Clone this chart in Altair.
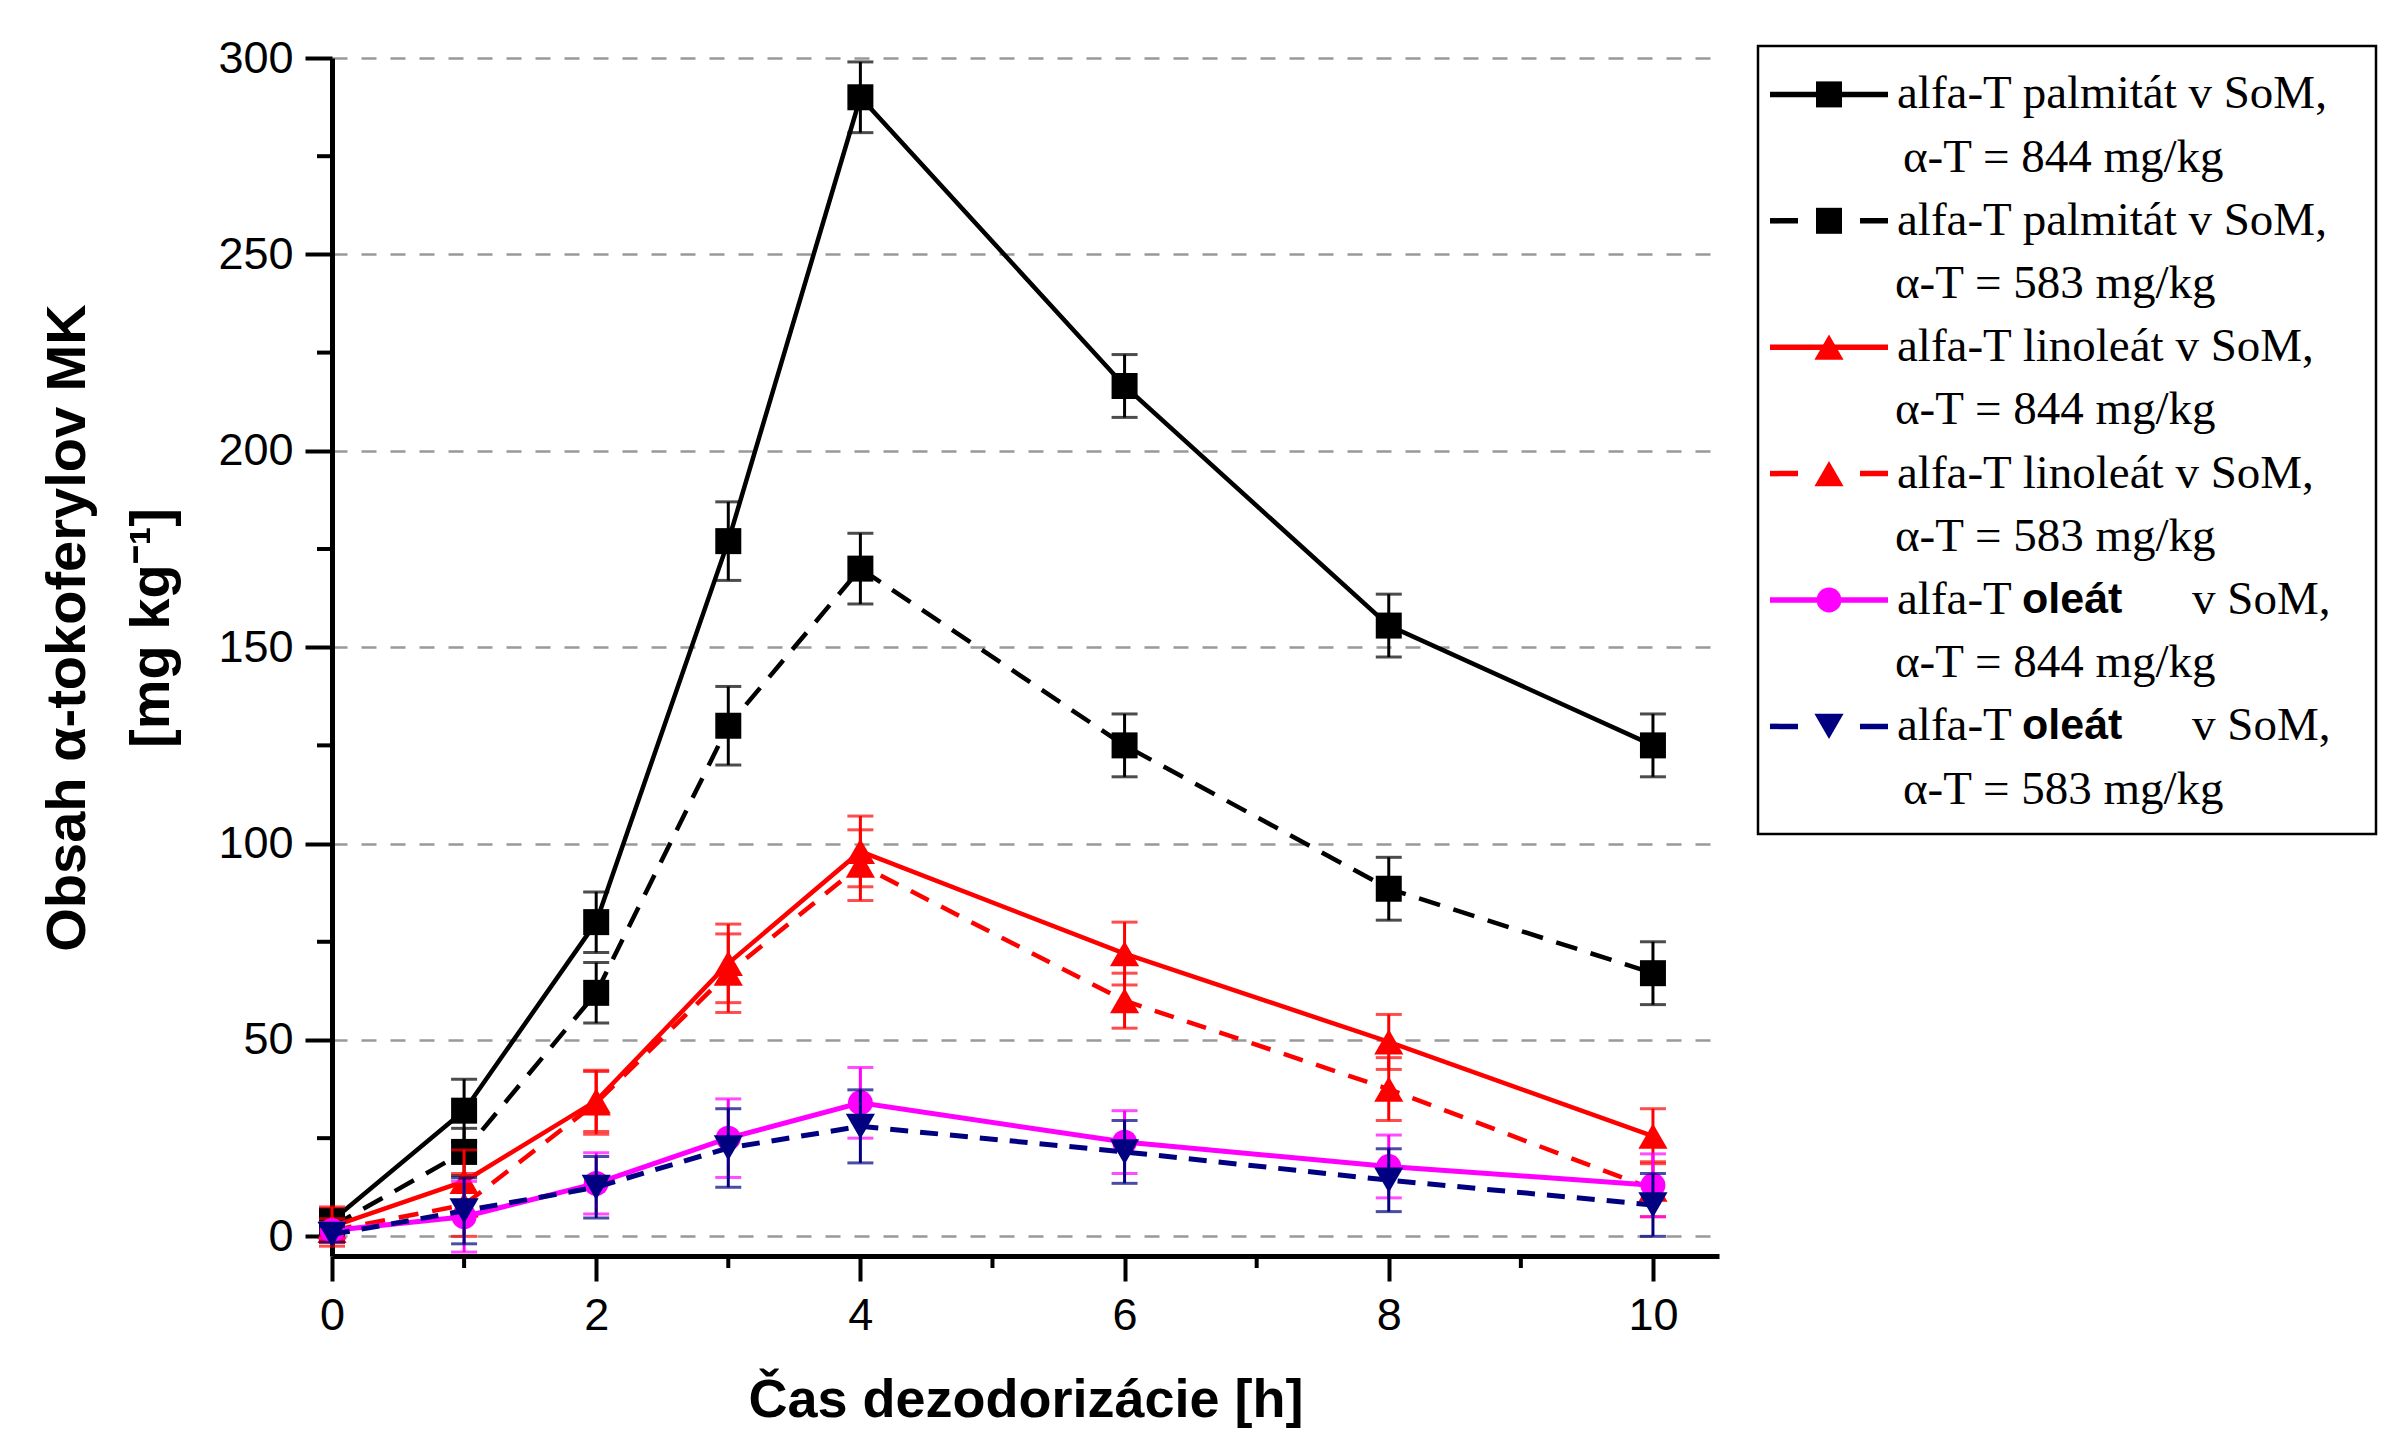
import altair as alt
import pandas as pd

# ---------------- data ----------------
hours = [0, 1, 2, 3, 4, 6, 8, 10]

palm844 = [4, 32, 80, 177, 290, 216.5, 155.5, 125]
palm844_err = [3, 8, 7.7, 10, 9, 8, 8, 8]
palm583 = [2.5, 21.5, 62, 130, 170, 125, 88.5, 67]
palm583_err = [3, 6, 7.7, 10, 9, 8, 8, 8]
lin844 = [2.5, 14, 34.5, 69.5, 98, 72, 49.5, 25.5]
lin844_err = [5, 8, 7.8, 10, 9, 8, 7, 7]
lin583 = [1.5, 8, 34, 67, 94.5, 60, 37.5, 12]
lin583_err = [3, 8, 8, 10, 9, 7, 8, 7]
ole844 = [1.5, 5, 13.5, 25, 34, 24, 17.8, 13]
ole844_err = [2, 9, 7.8, 10, 9, 8, 8, 8]
ole583 = [0.5, 6.5, 12.5, 22.5, 28, 21.5, 14.3, 8]
ole583_err = [2, 8.4, 7.8, 10, 9.3, 8, 8, 8]

series_values = [palm844, palm583, lin844, lin583, ole844, ole583]
series_errors = [palm844_err, palm583_err, lin844_err, lin583_err, ole844_err, ole583_err]

legend_line1 = ["alfa-T palmitát v SoM,", "alfa-T palmitát v SoM,",
                "alfa-T linoleát v SoM,", "alfa-T linoleát v SoM,",
                "alfa-T ", "alfa-T "]
legend_line2 = ["α-T = 844 mg/kg", "α-T = 583 mg/kg", "α-T = 844 mg/kg",
                "α-T = 583 mg/kg", "α-T = 844 mg/kg", "α-T = 583 mg/kg"]

y_ticks = [0, 50, 100, 150, 200, 250, 300]
y_minor = [25, 75, 125, 175, 225, 275]
x_ticks = [0, 2, 4, 6, 8, 10]
x_minor = [1, 3, 5, 7, 9]

x_title = "Čas dezodorizácie [h]"
y_title1 = "Obsah α-tokoferylov MK"
y_title2 = "[mg kg⁻¹]"

# ---------------- styles ----------------
colors = ["#000000", "#000000", "#ff0000", "#ff0000", "#ff00ff", "#000080"]
dashes = [None, [22, 14], None, [20, 14], None, [18, 12]]
shapes = ["square", "square", "triangle-up", "triangle-up", "circle", "triangle-down"]
msizes = [676, 676, 850, 850, 620, 850]
lwidths = [4.5, 4.5, 4.5, 4.5, 5, 5]

W, H = 1387, 1198
xscale = alt.Scale(domain=[0, 10.5], nice=False, zero=False)
yscale = alt.Scale(domain=[-5, 300], nice=False, zero=False)

SANS = "Liberation Sans"
SERIF = "Liberation Serif"

x_axis = alt.Axis(values=x_ticks, grid=False, domainColor="black", domainWidth=5,
                  tickColor="black", tickWidth=4, tickSize=25, labelFlush=False,
                  labelFont=SANS, labelFontSize=45, labelColor="black", labelPadding=12,
                  title=x_title, titleFont=SANS, titleFontSize=54, titleFontWeight="bold",
                  titleColor="black", titleY=160, titleBaseline="alphabetic")
y_axis = alt.Axis(values=y_ticks, grid=True, gridColor="#999999", gridDash=[15, 14],
                  gridWidth=2.5, domainColor="black", domainWidth=5, labelFlush=False,
                  tickColor="black", tickWidth=4, tickSize=27,
                  labelFont=SANS, labelFontSize=45, labelColor="black", labelPadding=12,
                  title=None)


def X(field):
    return alt.X(field, scale=xscale, axis=x_axis)


def Y(field):
    return alt.Y(field, scale=yscale, axis=y_axis)


layers = []
# minor ticks (drawn first so data sit on top)
layers.append(alt.Chart(pd.DataFrame({"x": x_minor})).mark_rule(color="black", strokeWidth=4).encode(
    x=X("x:Q"), y=alt.value(H), y2=alt.value(H + 12)))
layers.append(alt.Chart(pd.DataFrame({"y": y_minor})).mark_rule(color="black", strokeWidth=4).encode(
    y=Y("y:Q"), x=alt.value(0), x2=alt.value(-15)))

for i in range(6):
    df = pd.DataFrame({
        "x": hours,
        "y": series_values[i],
        "lo": [v - e for v, e in zip(series_values[i], series_errors[i])],
        "hi": [v + e for v, e in zip(series_values[i], series_errors[i])],
    })
    line_kw = dict(color=colors[i], strokeWidth=lwidths[i])
    if dashes[i] is not None:
        line_kw["strokeDash"] = dashes[i]
    line = alt.Chart(df).mark_line(**line_kw).encode(x=X("x:Q"), y=Y("y:Q"))
    err = alt.Chart(df).mark_errorbar(ticks=True, size=26, thickness=3, color=colors[i]).encode(
        x=X("x:Q"), y=Y("lo:Q"), y2="hi:Q")
    pts = alt.Chart(df).mark_point(shape=shapes[i], filled=True, size=msizes[i],
                                    color=colors[i], opacity=1).encode(x=X("x:Q"), y=Y("y:Q"))
    layers += [line, err, pts]

one = pd.DataFrame({"k": [0]})

# y title (two lines)
layers.append(alt.Chart(one).mark_text(text=y_title1, angle=270, font=SANS, fontSize=56,
                                       fontWeight="bold", color="black", align="center",
                                       baseline="middle").encode(
    x=alt.value(-264), y=alt.value(570)))
layers.append(alt.Chart(one).mark_text(text=y_title2, angle=270, font=SANS, fontSize=56,
                                       fontWeight="bold", color="black", align="center",
                                       baseline="middle").encode(
    x=alt.value(-180), y=alt.value(570)))

# legend
LX0, LX1, LXM, LTX = 1438, 1556, 1497, 1565
layers.append(alt.Chart(one).mark_rect(fillOpacity=0, stroke="black", strokeWidth=2.5).encode(
    x=alt.value(1426), x2=alt.value(2044), y=alt.value(-12), y2=alt.value(776)))
row0, rstep = 36.4, 63.2
for i in range(6):
    ry1 = row0 + 2 * i * rstep
    ry2 = ry1 + rstep
    rule_kw = dict(color=colors[i], strokeWidth=5.5)
    if dashes[i] is not None:
        rule_kw["strokeDash"] = [28, 62]
    layers.append(alt.Chart(one).mark_rule(**rule_kw).encode(
        x=alt.value(LX0), x2=alt.value(LX1), y=alt.value(ry1)))
    layers.append(alt.Chart(one).mark_point(shape=shapes[i], filled=True, size=msizes[i],
                                            color=colors[i], opacity=1).encode(
        x=alt.value(LXM), y=alt.value(ry1)))
    layers.append(alt.Chart(one).mark_text(text=legend_line1[i], font=SERIF, fontSize=47,
                                           color="black", align="left", baseline="middle").encode(
        x=alt.value(LTX), y=alt.value(ry1)))
    if i >= 4:
        layers.append(alt.Chart(one).mark_text(text="oleát", font=SANS, fontSize=43,
                                               fontWeight=600, color="black", align="left",
                                               baseline="middle").encode(
            x=alt.value(1690), y=alt.value(ry1)))
        layers.append(alt.Chart(one).mark_text(text="v SoM,", font=SERIF, fontSize=47,
                                               color="black", align="left", baseline="middle").encode(
            x=alt.value(1860), y=alt.value(ry1)))
    x2 = 1571 if i in (0, 5) else 1563
    layers.append(alt.Chart(one).mark_text(text=legend_line2[i], font=SERIF, fontSize=47,
                                           color="black", align="left", baseline="middle").encode(
        x=alt.value(x2), y=alt.value(ry2)))

chart = alt.layer(*layers).properties(
    width=W, height=H,
    autosize=alt.AutoSizeParams(type="none"),
    padding={"left": 324, "top": 50, "right": 660, "bottom": 172},
    background="white",
).configure_view(stroke=None)

chart.save("out.html", embed_options={"renderer": "svg", "actions": False})
